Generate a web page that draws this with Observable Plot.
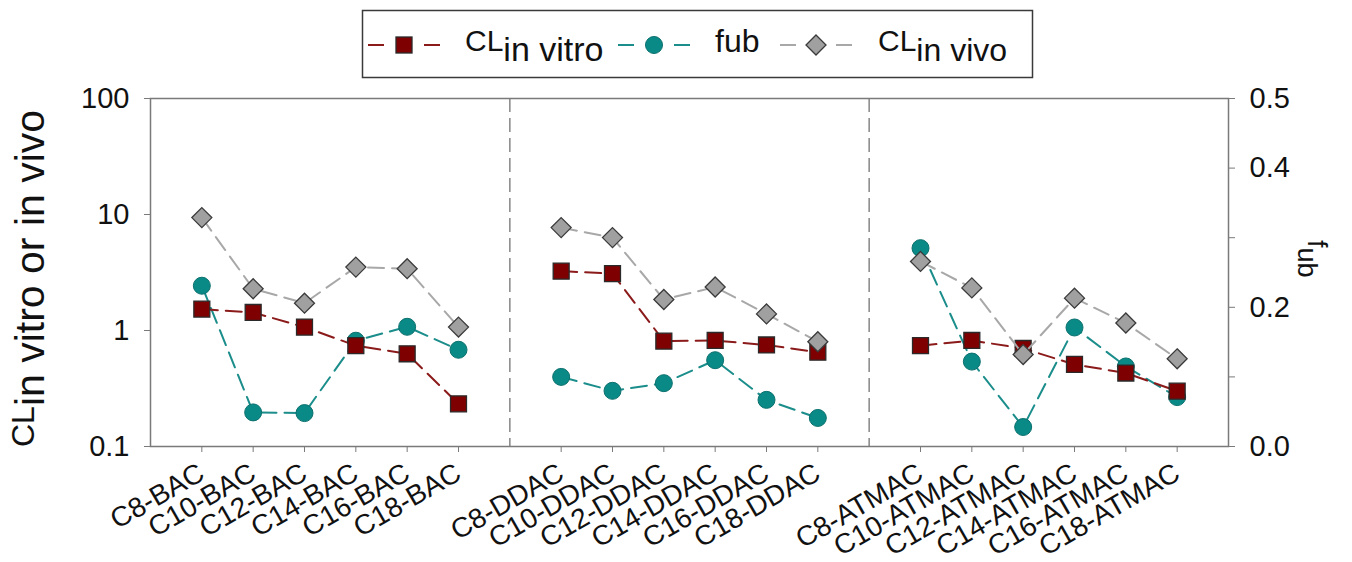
<!DOCTYPE html>
<html><head><meta charset="utf-8">
<script src="https://cdn.jsdelivr.net/npm/d3@7"></script>
<script src="https://cdn.jsdelivr.net/npm/@observablehq/plot@0.6"></script>
<style>
body{margin:0;background:#fff;font-family:"Liberation Sans",Arial,sans-serif;}
#legend{width:1352px;height:85px;}
#legend svg,#chart svg{display:block;}
</style></head><body>
<div id="legend"></div>
<div id="chart"></div>
<script>
// ---- data ----
const groups = ["BAC", "DDAC", "ATMAC"];
const chains = ["C8", "C10", "C12", "C14", "C16", "C18"];
const clInVitro = [1.53, 1.43, 1.07, 0.74, 0.63, 0.233,
                   3.25, 3.09, 0.81, 0.82, 0.75, 0.65,
                   0.74, 0.82, 0.70, 0.51, 0.43, 0.30];
const fub       = [0.231, 0.049, 0.048, 0.152, 0.172, 0.139,
                   0.100, 0.080, 0.091, 0.124, 0.067, 0.041,
                   0.285, 0.122, 0.028, 0.171, 0.115, 0.071];
const clInVivo  = [9.4, 2.29, 1.72, 3.52, 3.41, 1.07,
                   7.71, 6.32, 1.85, 2.37, 1.39, 0.80,
                   3.94, 2.33, 0.62, 1.90, 1.16, 0.57];
const yTicks = [0.1, 1, 10, 100];
const fubTicks = [0, 0.1, 0.2, 0.3, 0.4, 0.5];

// ---- colours ----
const red = "#7f0000", redLine = "#8b1a1a";
const teal = "#0a8a87", tealLine = "#1b8d8b";
const grey = "#a0a0a0", greyLine = "#a8a8a8";

// fub (0..0.5) mapped onto the log CL axis (0.1..100)
const fubToY = f => Math.pow(10, 6 * f - 1);
const yToFub = v => (Math.log10(v) + 1) / 6;

const rows = [];
groups.forEach((g, gi) => chains.forEach((c, ci) => {
  const i = gi * chains.length + ci;
  rows.push({compound: `${c}-${g}`, group: g, slot: gi * 7 + ci + 1,
             vitro: clInVitro[i], fub: fub[i], fubY: fubToY(fub[i]), vivo: clInVivo[i]});
}));
const labelBySlot = new Map(rows.map(d => [d.slot, d.compound]));
const separators = groups.slice(1).map((g, i) => (i + 1) * 7);

const font = "Liberation Sans, Arial, sans-serif";
const dash = "16,8";
const chart = Plot.plot({
  width: 1352, height: 477,
  marginLeft: 150, marginRight: 124, marginTop: 13, marginBottom: 116,
  x: {type: "linear", domain: [0, 21]},
  y: {type: "log", domain: [0.1, 100]},
  style: {fontFamily: font, color: "#111", background: "white", overflow: "visible"},
  marks: [
    Plot.ruleX(separators, {stroke: "#8e8e8e", strokeWidth: 1.6, strokeDasharray: "14,6"}),
    Plot.frame({stroke: "#7a7a7a", strokeWidth: 1.5}),
    Plot.axisY({ticks: yTicks, tickFormat: d => String(d), tickSize: 6, tickPadding: 15,
                fontSize: 29, stroke: "#7a7a7a", fill: "#111", label: null}),
    Plot.axisY({anchor: "right", ticks: fubTicks.map(fubToY), tickFormat: d => yToFub(d).toFixed(1),
                tickSize: 6, tickPadding: 15, fontSize: 29, stroke: "#7a7a7a", fill: "#111", label: null}),
    Plot.axisX({ticks: rows.map(d => d.slot), tickFormat: s => labelBySlot.get(s), tickRotate: -30,
                tickSize: 6, tickPadding: 18, fontSize: 28, stroke: "#7a7a7a", fill: "#111", label: null}),
    Plot.lineY(rows, {x: "slot", y: "fubY", z: "group", stroke: tealLine, strokeWidth: 2, strokeDasharray: dash}),
    Plot.dot(rows, {x: "slot", y: "fubY", symbol: "circle", r: 8.5, fill: teal, stroke: "#0b706e", strokeWidth: 1}),
    Plot.lineY(rows, {x: "slot", y: "vitro", z: "group", stroke: redLine, strokeWidth: 2, strokeDasharray: dash}),
    Plot.dot(rows, {x: "slot", y: "vitro", symbol: "square", r: 9, fill: red, stroke: "#2a2a2a", strokeWidth: 1.3}),
    Plot.lineY(rows, {x: "slot", y: "vivo", z: "group", stroke: greyLine, strokeWidth: 2, strokeDasharray: dash}),
    Plot.dot(rows, {x: "slot", y: "vivo", symbol: "diamond2", r: 9, fill: grey, stroke: "#3a3a3a", strokeWidth: 1.3})
  ]
});
document.getElementById("chart").appendChild(chart);

// axis titles with subscripts
const svg = d3.select(chart);
const yl = svg.append("text").attr("transform", "translate(34,362) rotate(-90)")
  .attr("text-anchor", "start").attr("font-family", font).attr("fill", "#111").attr("font-size", 32);
yl.append("tspan").text("CL");
yl.append("tspan").attr("font-size", 41).attr("dy", 10).text("in vitro or in vivo");
const yr = svg.append("text").attr("transform", "translate(1308,155) rotate(90)")
  .attr("text-anchor", "start").attr("font-family", font).attr("fill", "#111").attr("font-size", 27);
yr.append("tspan").text("f");
yr.append("tspan").attr("dy", 10).text("ub");

// legend above the plot
const lg = d3.select("#legend").append("svg").attr("width", 1352).attr("height", 85)
  .attr("font-family", font);
lg.append("rect").attr("x", 362.5).attr("y", 10.5).attr("width", 670).attr("height", 67)
  .attr("fill", "none").attr("stroke", "#3a3a3a").attr("stroke-width", 1.5);
function seg(x0, col) {
  lg.append("line").attr("x1", x0).attr("x2", x0 + 16).attr("y1", 45).attr("y2", 45).attr("stroke", col).attr("stroke-width", 2);
  lg.append("line").attr("x1", x0 + 56).attr("x2", x0 + 72).attr("y1", 45).attr("y2", 45).attr("stroke", col).attr("stroke-width", 2);
}
seg(368, redLine);
lg.append("rect").attr("x", 396).attr("y", 37).attr("width", 16).attr("height", 16)
  .attr("fill", red).attr("stroke", "#2a2a2a").attr("stroke-width", 1.3);
seg(618, tealLine);
lg.append("circle").attr("cx", 654).attr("cy", 45).attr("r", 8.5).attr("fill", teal).attr("stroke", "#0b706e");
seg(780, greyLine);
lg.append("path").attr("d", "M816,35L826,45L816,55L806,45Z").attr("fill", grey)
  .attr("stroke", "#3a3a3a").attr("stroke-width", 1.3);
const t1 = lg.append("text").attr("x", 465).attr("y", 51).attr("font-size", 30).attr("fill", "#111");
t1.append("tspan").text("CL");
t1.append("tspan").attr("font-size", 34).attr("dy", 10).text("in vitro");
lg.append("text").attr("x", 715).attr("y", 52).attr("font-size", 32).attr("fill", "#111").text("fub");
const t3 = lg.append("text").attr("x", 878).attr("y", 51).attr("font-size", 30).attr("fill", "#111");
t3.append("tspan").text("CL");
t3.append("tspan").attr("font-size", 32).attr("dy", 10).text("in vivo");
</script>
</body></html>
